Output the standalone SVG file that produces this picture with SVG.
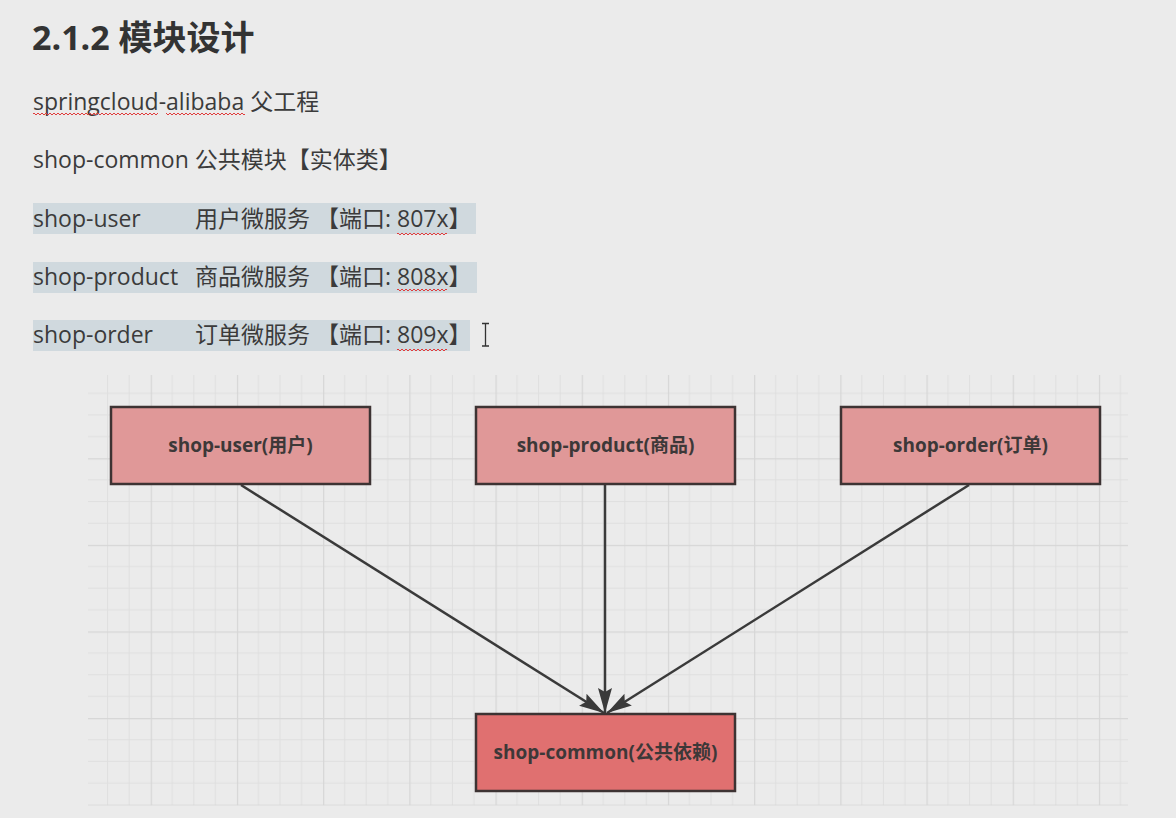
<svg xmlns="http://www.w3.org/2000/svg" width="1176" height="818" viewBox="0 0 1176 818">
<style>
.t{font-family:"Open Sans","Noto Sans CJK SC",sans-serif;fill:#3b3b3b;font-size:23px}
.title{font-family:"Open Sans","Noto Sans CJK SC",sans-serif;fill:#333;font-size:34px;font-weight:bold}
.box{stroke:#3d3333;stroke-width:2.5}
.lbl{font-family:"Open Sans","Noto Sans CJK SC",sans-serif;fill:#3d3838;font-size:19px;font-weight:bold;text-anchor:middle}
.hl{fill:#d0d9de}
.conn{stroke:#3a3a3a;stroke-width:2.5;fill:none}
</style>
<defs>
<pattern id="grid" patternUnits="userSpaceOnUse" x="64.5" y="371.65" width="86.2" height="86.6">
<rect x="0" y="0" width="86.2" height="86.6" fill="#ebebeb"/>
<g fill="#dfdfdf">
<rect x="21.05" y="0" width="1" height="86.6"/>
<rect x="42.6" y="0" width="1" height="86.6"/>
<rect x="64.15" y="0" width="1" height="86.6"/>
<rect x="0" y="21.15" width="86.2" height="1"/>
<rect x="0" y="42.8" width="86.2" height="1"/>
<rect x="0" y="64.45" width="86.2" height="1"/>
</g>
<g fill="#d6d6d6">
<rect x="0" y="0" width="1.2" height="86.6"/>
<rect x="0" y="0" width="86.2" height="1.2"/>
</g>
</pattern>
<pattern id="wave" patternUnits="userSpaceOnUse" x="0" y="0" width="4" height="4">
<path d="M0 3 L2 1 L4 3" stroke="#e03c3c" stroke-width="1" fill="none"/>
</pattern>
<marker id="arr" markerUnits="userSpaceOnUse" markerWidth="26" markerHeight="16" viewBox="0 0 26 16" refX="25" refY="8" orient="auto">
<path d="M0 1 L25 8 L0 15 L4 8 Z" fill="#3a3a3a"/>
</marker>
</defs>
<rect width="1176" height="818" fill="#ebebeb"/>
<text class="title" x="32" y="50">2.1.2 模块设计</text>
<text class="t" x="33" y="110">springcloud-alibaba 父工程</text>
<rect x="33" y="112" width="125" height="4" fill="url(#wave)"/>
<rect x="166" y="112" width="79" height="4" fill="url(#wave)"/>
<text class="t" x="33" y="168">shop-common 公共模块【实体类】</text>
<rect class="hl" x="33" y="203" width="443" height="31"/>
<rect class="hl" x="33" y="262" width="444" height="31"/>
<rect class="hl" x="33" y="320" width="437" height="31"/>
<text class="t" x="33" y="227">shop-user</text>
<text class="t" x="195" y="227">用户微服务 【端口: 807x】</text>
<text class="t" x="33" y="285">shop-product</text>
<text class="t" x="195" y="285">商品微服务 【端口: 808x】</text>
<text class="t" x="33" y="343">shop-order</text>
<text class="t" x="195" y="343">订单微服务 【端口: 809x】</text>
<rect x="397" y="232" width="50" height="4" fill="url(#wave)"/>
<rect x="397" y="288" width="50" height="4" fill="url(#wave)"/>
<rect x="397" y="348" width="50" height="4" fill="url(#wave)"/>
<path d="M482 323.5 H489 M485.5 323.5 V346 M482 346 H489" stroke="#333" stroke-width="1.3" fill="none"/>
<rect x="88" y="375" width="1040" height="430.5" fill="url(#grid)"/>
<g id="connectors">
<line class="conn" x1="241" y1="485" x2="604" y2="713" marker-end="url(#arr)"/>
<line class="conn" x1="605" y1="485" x2="605" y2="713" marker-end="url(#arr)"/>
<line class="conn" x1="969" y1="485" x2="607" y2="713" marker-end="url(#arr)"/>
</g>
<g id="shop-user">
<rect class="box" x="111" y="407" width="259" height="77" fill="#e09898"/>
<text class="lbl" x="240.5" y="452">shop-user(用户)</text>
</g>
<g id="shop-product">
<rect class="box" x="476" y="407" width="259" height="77" fill="#e09898"/>
<text class="lbl" x="605.5" y="452">shop-product(商品)</text>
</g>
<g id="shop-order">
<rect class="box" x="841" y="407" width="259" height="77" fill="#e09898"/>
<text class="lbl" x="970.5" y="452">shop-order(订单)</text>
</g>
<g id="shop-common">
<rect class="box" x="476" y="714" width="259" height="77" fill="#e07070"/>
<text class="lbl" x="605.5" y="759">shop-common(公共依赖)</text>
</g>
</svg>
